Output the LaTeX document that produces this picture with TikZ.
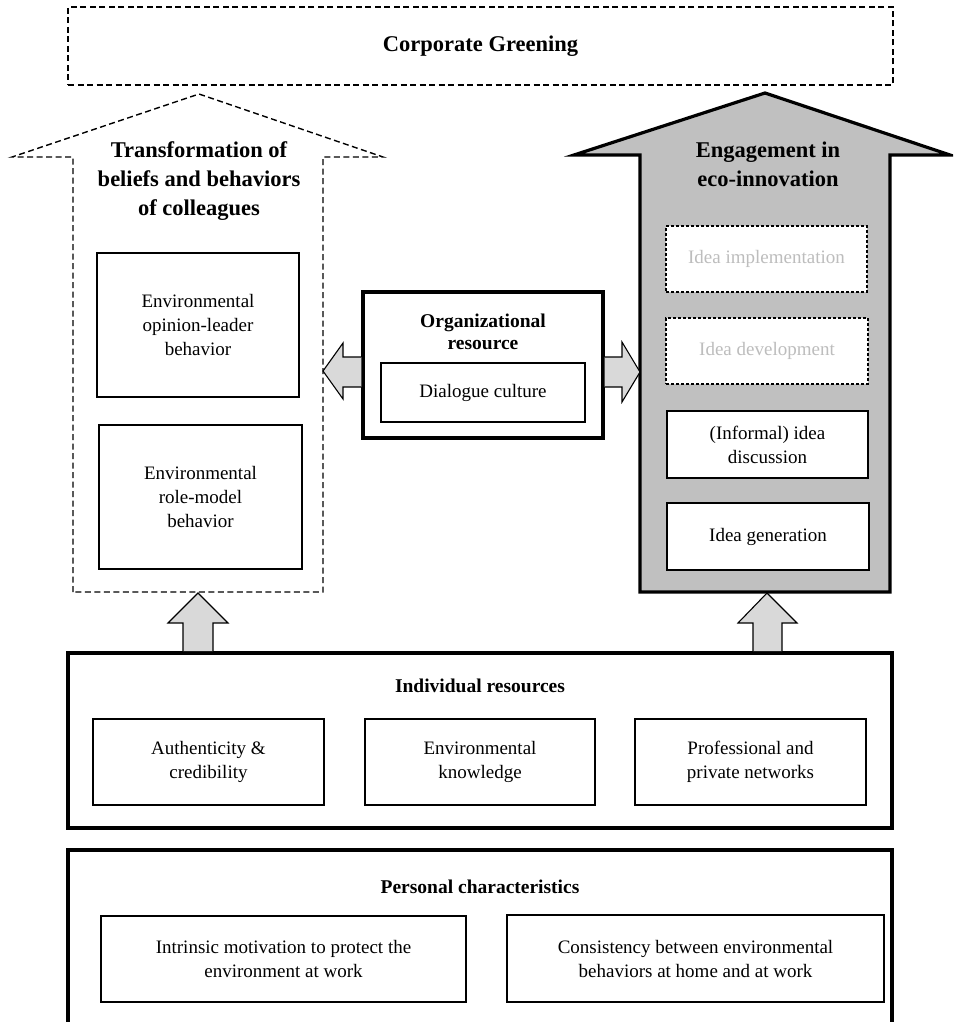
\documentclass[tikz,border=0pt]{standalone}
\usepackage{fontspec}
\setmainfont{Liberation Serif}
\definecolor{bigfill}{HTML}{C0C0C0}
\definecolor{smallfill}{HTML}{D9D9D9}
\definecolor{ghosttext}{HTML}{BDBDBD}
\begin{document}
\begin{tikzpicture}[x=1pt,y=-1pt,
  txt/.style={font=\fontsize{19}{24}\selectfont, align=center},
  boldtxt/.style={font=\bfseries\fontsize{19.5}{22}\selectfont, align=center},
  bigtitle/.style={font=\bfseries\fontsize{22.5}{29}\selectfont, align=center},
  thinbox/.style={draw, line width=1.4pt, fill=white, inner sep=0pt, txt},
  ghostbox/.style={draw, line width=1.2pt, dash pattern=on 3pt off 2pt, fill=white, inner sep=0pt, txt, text=ghosttext},
  thickbox/.style={draw, line width=3.4pt, fill=white, inner sep=0pt},
  dashframe/.style={draw, line width=1.4pt, dash pattern=on 6pt off 3.5pt},
  smallarrow/.style={draw, line width=1.1pt, fill=smallfill, line join=miter},
]
\useasboundingbox (0,0) rectangle (953,1022);
\clip (0,0) rectangle (953,1022);

% Corporate Greening
\node[dashframe, minimum width=825pt, minimum height=78pt, bigtitle] (cg) at (480.5,46) {Corporate Greening};

% left dashed arrow
\draw[dashframe, line join=miter] (73,592) -- (73,157) -- (12,157) -- (199,94) -- (383,157) -- (323,157) -- (323,592) -- cycle;
\node[bigtitle] (trans) at (199,181) {Transformation of\\beliefs and behaviors\\of colleagues};

% right grey arrow
\draw[line width=3.2pt, fill=bigfill, line join=miter] (640,592) -- (640,155) -- (574,155) -- (765,93) -- (950,155) -- (890,155) -- (890,592) -- cycle;
\node[bigtitle] (eng) at (768,164) {Engagement in\\eco-innovation};

% left inner boxes
\node[thinbox, minimum width=202pt, minimum height=144pt] (opin) at (198,325) {Environmental\\opinion-leader\\behavior};
\node[thinbox, minimum width=203pt, minimum height=144pt] (role) at (200.5,497) {Environmental\\role-model\\behavior};

% right inner boxes
\node[ghostbox, minimum width=201pt, minimum height=66pt] (impl) at (766.5,259) {Idea implementation};
\node[ghostbox, minimum width=202pt, minimum height=66pt] (dev) at (767,351) {Idea development};
\node[thinbox, minimum width=201pt, minimum height=67pt] (disc) at (767.5,444.5) {(Informal) idea\\discussion};
\node[thinbox, minimum width=202pt, minimum height=67pt] (gen) at (768,536.5) {Idea generation};

% organizational resource
\node[thickbox, minimum width=240pt, minimum height=146pt] (org) at (483,365) {};
\node[boldtxt] (orgt) at (483,332) {Organizational\\resource};
\node[thinbox, minimum width=204pt, minimum height=59pt] (dial) at (483,392.5) {Dialogue culture};

% horizontal arrows
\draw[smallarrow] (org.west |- 0,357) -- (343,357) -- (343,343) -- (323,371) -- (343,399) -- (343,387) -- (org.west |- 0,387);
\draw[smallarrow] (org.east |- 0,357) -- (622,357) -- (622,342) -- (640,372) -- (622,402) -- (622,387) -- (org.east |- 0,387);

% individual resources
\node[thickbox, minimum width=824pt, minimum height=175pt] (ind) at (480,740.5) {};
\node[boldtxt] (indt) at (480,686) {Individual resources};
\node[thinbox, minimum width=231pt, minimum height=86pt] (auth) at (208.5,762) {Authenticity \&\\credibility};
\node[thinbox, minimum width=230pt, minimum height=86pt] (know) at (480,762) {Environmental\\knowledge};
\node[thinbox, minimum width=231pt, minimum height=86pt] (netw) at (750.5,762) {Professional and\\private networks};

% up arrows
\draw[smallarrow] (183,651) -- (183,623) -- (168,623) -- (198,593) -- (228,623) -- (213,623) -- (213,651);
\draw[smallarrow] (753,651) -- (753,623) -- (738,623) -- (767,593) -- (797,623) -- (782,623) -- (782,651);

% personal characteristics
\draw[line width=3.4pt] (68,1040) -- (68,850) -- (892,850) -- (892,1040);
\node[boldtxt] (pers) at (480,887) {Personal characteristics};
\node[thinbox, minimum width=365pt, minimum height=86pt] (intr) at (283.5,959) {Intrinsic motivation to protect the\\environment at work};
\node[thinbox, minimum width=377pt, minimum height=87pt] (cons) at (695.5,958.5) {Consistency between environmental\\behaviors at home and at work};
\end{tikzpicture}
\end{document}
